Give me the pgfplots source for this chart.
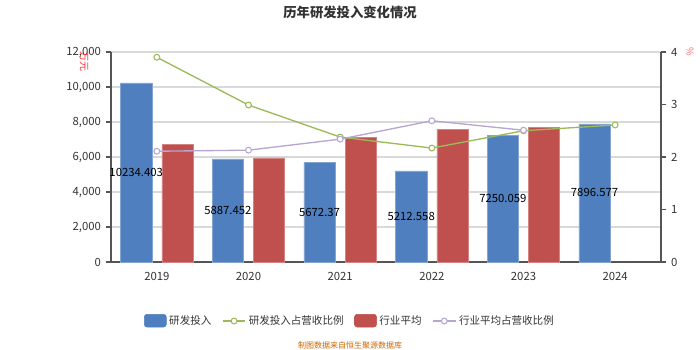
\documentclass[border=0pt]{standalone}
\usepackage{pgfplots}
\pgfplotsset{compat=1.18}
\usepackage{pgfplotstable}
\usepackage{fontspec}
\setmainfont{Noto Sans CJK SC}
\definecolor{cblue}{HTML}{4F7FBE}
\definecolor{cred}{HTML}{C0504D}
\definecolor{cgreen}{HTML}{9BBB59}
\definecolor{cpurple}{HTML}{B7A6D1}
\definecolor{axgrey}{HTML}{555555}
\definecolor{txtgrey}{HTML}{333333}
\pgfplotstableread{
x v lab
0 10234.403 10234.403
1 5887.452 5887.452
2 5672.37 5672.37
3 5212.558 5212.558
4 7250.059 7250.059
5 7896.577 7896.577
}\rd
\pgfplotstableread{
x v
0 6700
1 5950
2 7100
3 7600
4 7700
}\ind
\pgfplotstableread{
x r
0 3.90
1 2.99
2 2.38
3 2.17
4 2.50
5 2.61
}\rdr
\pgfplotstableread{
x r
0 2.11
1 2.13
2 2.34
3 2.69
4 2.51
}\indr
\begin{document}
\begin{tikzpicture}[x=0.75pt,y=0.75pt]
\useasboundingbox (-111,-88) rectangle (589,262);
\begin{axis}[
  at={(0,0)}, anchor=south west,
  scale only axis, width=412.5pt, height=157.5pt,
  xmin=-0.5, xmax=5.5, ymin=0, ymax=12000,
  axis y line*=left, axis x line*=bottom,
  axis line style={axgrey, line width=0.8pt},
  xtick={0,...,5}, xticklabels={2019,2020,2021,2022,2023,2024},
  major x tick style={draw=none},
  extra x ticks={-0.5,0.5,1.5,2.5,3.5,4.5,5.5}, extra x tick labels={},
  extra x tick style={major tick length=4pt, tick style={axgrey, line width=0.8pt}, tick align=outside, grid=none},
  ytick={0,2000,...,12000},
  yticklabel style={/pgf/number format/.cd, fixed, 1000 sep={,}},
  scaled y ticks=false,
  ymajorgrids, grid style={gray!30, line width=0.8pt},
  tick align=outside, major tick length=4pt,
  tick style={axgrey, line width=0.8pt},
  ticklabel style={font=\fontsize{8.5}{10}\selectfont, text=txtgrey},
  /pgf/number format/assume math mode=true,
  clip=false,
]
\addplot[ybar, bar width=0.34, bar shift=-0.225, fill=cblue, draw=cblue!70!white, line width=0.4pt] table[x=x,y=v]{\rd};
\addplot[ybar, bar width=0.34, bar shift=0.225, fill=cred, draw=cred!70!white, line width=0.4pt] table[x=x,y=v]{\ind};
\addplot[draw=none, mark=none, nodes near coords, point meta=explicit symbolic,
  every node near coord/.append style={anchor=center, font=\fontsize{8.5}{10}\selectfont, text=black}]
  table[x expr=\thisrow{x}-0.225, y expr=\thisrow{v}/2, meta=lab]{\rd};
\end{axis}
\begin{axis}[
  at={(0,0)}, anchor=south west,
  scale only axis, width=412.5pt, height=157.5pt,
  xmin=-0.5, xmax=5.5, ymin=0, ymax=4,
  axis y line*=right, axis x line=none,
  axis line style={axgrey, line width=0.8pt},
  ytick={0,1,2,3,4},
  tick align=outside, major tick length=4pt,
  tick style={axgrey, line width=0.8pt},
  ticklabel style={font=\fontsize{8.5}{10}\selectfont, text=txtgrey},
  /pgf/number format/assume math mode=true,
  legend columns=4,
  legend style={at={(0.435,-0.281)}, anchor=center, draw=none, fill=none,
    font=\fontsize{7.9}{9.5}\selectfont, text=txtgrey,
    /tikz/every odd column/.append style={column sep=0pt},
    /tikz/every even column/.append style={column sep=6pt}},
  clip=false,
]
\addlegendimage{area legend, legend image code/.code={\fill[cblue, rounded corners=2pt] (-1pt,-4.5pt) rectangle (15.5pt,5pt);}}
\addlegendentry{研发投入}
\addplot[cgreen, line width=1pt, mark=*, mark size=2.2pt, mark options={fill=white, draw=cgreen, line width=0.8pt}] table[x=x,y=r]{\rdr};
\addlegendentry{研发投入占营收比例}
\addlegendimage{area legend, legend image code/.code={\fill[cred, rounded corners=2pt] (-1pt,-4.5pt) rectangle (15.5pt,5pt);}}
\addlegendentry{行业平均}
\addplot[cpurple, line width=1pt, mark=*, mark size=2.2pt, mark options={fill=white, draw=cpurple, line width=0.8pt}] table[x=x,y=r]{\indr};
\addlegendentry{行业平均占营收比例}
\end{axis}
\node[font=\bfseries\fontsize{10}{12}\selectfont, text=txtgrey] at (239,250) {历年研发投入变化情况};
\node[font=\fontsize{7.5}{9}\selectfont, text=red!80, rotate=-90] at (-27,200) {万元};
\node[font=\fontsize{7}{9}\selectfont, text=red!60, rotate=-90] at (579,210) {\%};
\node[font=\fontsize{6}{8}\selectfont, text=orange!80!black] at (239,-83) {制图数据来自恒生聚源数据库};
\end{tikzpicture}
\end{document}
